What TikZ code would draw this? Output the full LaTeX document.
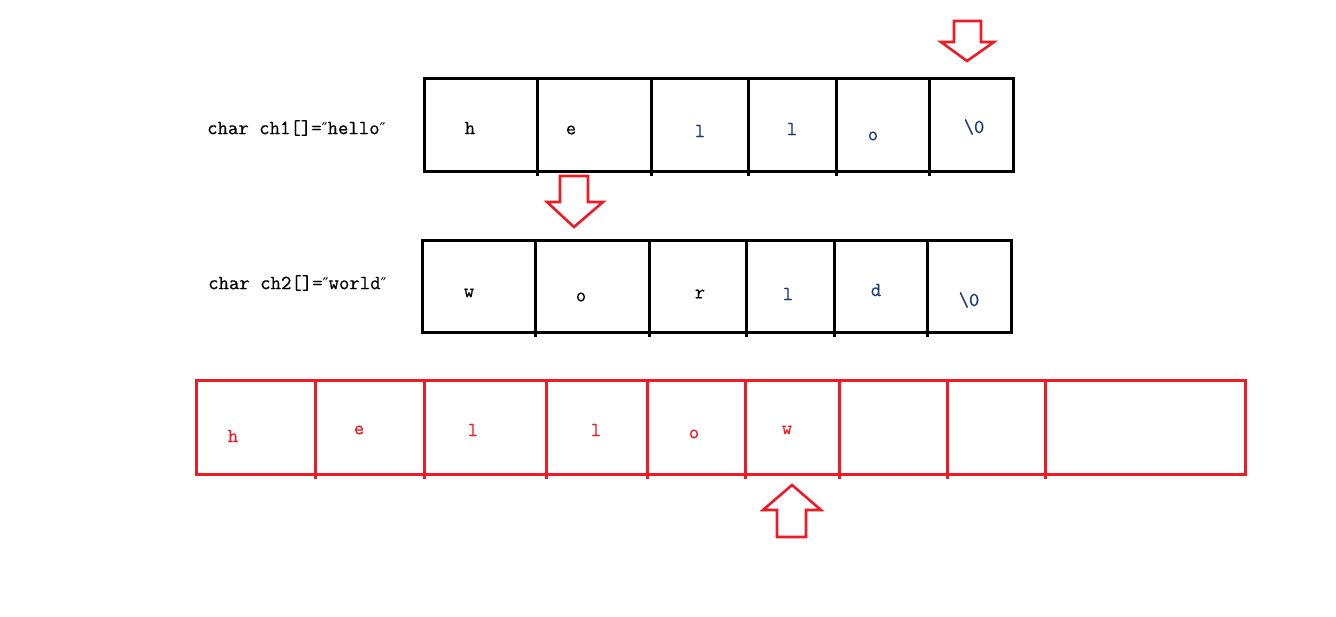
\documentclass[tikz,border=0pt]{standalone}
\usepackage{fontspec}
\newfontfamily\primefont{DejaVu Sans}
\newfontfamily\cmono{Latin Modern Mono}[FakeBold=0.5]
\definecolor{pred}{HTML}{ED1C24}
\definecolor{dblue}{HTML}{1A3C78}
\begin{document}
\begin{tikzpicture}[x=1pt,y=-1pt,
  blackbox/.style={draw=black,line width=3pt},
  redbox/.style={draw=pred,line width=3pt},
  fatarrow/.style={draw=pred,line width=2.6pt,line join=miter},
  celltxt/.style={font=\fontsize{20}{20}\cmono,inner sep=0pt,anchor=center},
  lbltxt/.style={font=\fontsize{20.2}{20}\cmono,inner sep=0pt,anchor=west}]
\useasboundingbox (0,0) rectangle (1336,616);
% row 1
\draw[blackbox] (424,78) rectangle (1013,171);
\foreach \x in {537,651,748,836,929} \draw[blackbox] (\x,78) -- (\x,176);
% row 2
\draw[blackbox] (422,240) rectangle (1011,332);
\foreach \x in {535,649,746,834,927} \draw[blackbox] (\x,240) -- (\x,337);
% row 3
\draw[redbox] (196,380) rectangle (1245,474);
\foreach \x in {315,424,546,647,745,839,947,1045} \draw[redbox] (\x,380) -- (\x,479);
% labels
\node[lbltxt] (lab1) at (207,128) {char ch1[]={\primefont\fontsize{16}{16}\selectfont″}hello{\primefont\fontsize{16}{16}\selectfont″}};
\node[lbltxt] (lab2) at (208,283) {char ch2[]={\primefont\fontsize{16}{16}\selectfont″}world{\primefont\fontsize{16}{16}\selectfont″}};
% row 1 text
\node[celltxt] (a1) at (470,128) {h};
\node[celltxt] (a2) at (571,130) {e};
\node[celltxt,text=dblue] (a3) at (700,131) {l};
\node[celltxt,text=dblue] (a4) at (792,129) {l};
\node[celltxt,text=dblue] (a5) at (873,136) {o};
\node[celltxt,text=dblue] (a6) at (974,127) {\textbackslash 0};
% row 2 text
\node[celltxt] (b1) at (469,293) {w};
\node[celltxt] (b2) at (581,297) {o};
\node[celltxt] (b3) at (700,294) {r};
\node[celltxt,text=dblue] (b4) at (788,294) {l};
\node[celltxt,text=dblue] (b5) at (876,290) {d};
\node[celltxt,text=dblue] (b6) at (969,300) {\textbackslash 0};
% row 3 text
\node[celltxt,text=pred] (c1) at (233,436) {h};
\node[celltxt,text=pred] (c2) at (359,430) {e};
\node[celltxt,text=pred] (c3) at (473,430) {l};
\node[celltxt,text=pred] (c4) at (596,430) {l};
\node[celltxt,text=pred] (c5) at (694,434) {o};
\node[celltxt,text=pred] (c6) at (787,430) {w};
% arrows
\draw[fatarrow] (954,21) -- (981,21) -- (981,42) -- (994,42) -- (967,61) -- (941,42) -- (954,42) -- cycle;
\draw[fatarrow] (560,176) -- (588,176) -- (588,202) -- (603,202) -- (574,227) -- (547,202) -- (560,202) -- cycle;
\draw[fatarrow] (777,537) -- (806,537) -- (806,510) -- (821,510) -- (792,485) -- (763,510) -- (777,510) -- cycle;
\end{tikzpicture}
\end{document}
